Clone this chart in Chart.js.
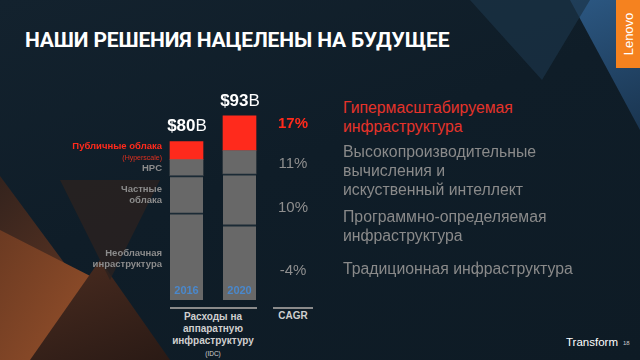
<!DOCTYPE html>
<html>
<head>
<meta charset="utf-8">
<script src="https://cdn.jsdelivr.net/npm/chart.js@4.4.0/dist/chart.umd.min.js"></script>
<style>
  html, body { margin: 0; padding: 0; }
  body { width: 640px; height: 360px; overflow: hidden; font-family: "Liberation Sans", Arial, sans-serif; }
  #slide {
    position: relative; width: 640px; height: 360px; overflow: hidden;
    background: linear-gradient(160deg, #13222e 0%, #0f1d28 45%, #0e1b25 100%);
  }
  .tri { position: absolute; }
  .t { position: absolute; white-space: nowrap; }
  #title { left: 25px; top: 28px; color: #fff; font: bold 21px "Roboto", "Liberation Sans", sans-serif; letter-spacing: -0.15px; }
  #lenovo { left: 616px; top: 0; width: 24px; height: 68px; background: #f5821f; position: absolute; }
  #lenovo span { position: absolute; left: 50%; top: 50%; transform: translate(-50%, -50%) rotate(-90deg); color: #fff; font: 13px "Liberation Sans", sans-serif; }
  .lbl { text-align: right; right: 478px; color: #8c8c8c; font: bold 9.5px "Liberation Sans", sans-serif; line-height: 11px; }
  .cagr { width: 60px; left: 263px; text-align: center; color: #8e8e8e; font: 15px "Liberation Sans", sans-serif; }
  .rt { left: 343px; color: #8a8a8a; font: 15.8px "Liberation Sans", sans-serif; line-height: 19px; }
  .hr { position: absolute; height: 2px; background: #8a8a8a; }
  #chartBox { position: absolute; left: 160px; top: 102px; width: 106px; height: 198px; }
</style>
</head>
<body>
<div id="slide">
  <!-- background triangles -->
  <div class="tri" style="left:0;top:130px;width:170px;height:230px;background:linear-gradient(135deg,#2a1f1c,#5a3322 60%,#3a2118);clip-path:polygon(0 20%,40% 60%,0 100%)"></div>
  <div class="tri" style="left:0;top:230px;width:170px;height:130px;background:linear-gradient(120deg,#6b3a22,#8a4a28 50%,#3e2519);clip-path:polygon(0 0,60% 40%,20% 100%,0 100%)"></div>
  <div class="tri" style="left:30px;top:260px;width:140px;height:100px;background:linear-gradient(160deg,#4a2c20,#2a1a15);clip-path:polygon(50% 0,100% 100%,0 100%)"></div>
  <div class="tri" style="left:60px;top:180px;width:100px;height:100px;background:#2b221f;opacity:0.8;clip-path:polygon(0 0,100% 0,50% 100%)"></div>
  <div class="tri" style="left:540px;top:0;width:100px;height:130px;background:linear-gradient(160deg,#2d5a86,#1a3550);clip-path:polygon(30% 0,100% 0,100% 100%)"></div>
  <div class="tri" style="left:470px;top:0;width:120px;height:80px;background:#1b3347;opacity:0.7;clip-path:polygon(0 0,100% 0,60% 100%)"></div>

  <div id="title" class="t">НАШИ РЕШЕНИЯ НАЦЕЛЕНЫ НА БУДУЩЕЕ</div>
  <div id="lenovo"><span>Lenovo</span></div>

  <div id="chartBox"><canvas id="chart"></canvas></div>

  <!-- segment labels -->
  <div class="t lbl" style="top:140px;color:#ff2a1c;">Публичные облака</div>
  <div class="t lbl" style="top:152px;color:#e0301f;font-size:7px;font-weight:normal;">(Hyperscale)</div>
  <div class="t lbl" style="top:162px;">HPC</div>
  <div class="t lbl" style="top:183px;">Частные<br>облака</div>
  <div class="t lbl" style="top:247px;">Необлачная<br>инраструктура</div>

  <!-- CAGR column -->
  <div class="t cagr" style="top:114px;color:#ff2a1c;font-weight:bold;">17%</div>
  <div class="t cagr" style="top:154px;">11%</div>
  <div class="t cagr" style="top:198px;">10%</div>
  <div class="t cagr" style="top:261px;">-4%</div>

  <div class="hr" style="left:170px;top:307px;width:87px;"></div>
  <div class="hr" style="left:273px;top:307px;width:40px;"></div>
  <div class="t" style="left:163px;width:100px;top:311px;text-align:center;color:#cfcfcf;font:bold 10px 'Liberation Sans',sans-serif;line-height:12px;">Расходы на<br>аппаратную<br>инфраструктуру<br><span style="font-size:6.5px;font-weight:normal;line-height:8px;">(IDC)</span></div>
  <div class="t" style="left:263px;width:60px;top:310px;text-align:center;color:#cfcfcf;font:bold 10px 'Liberation Sans',sans-serif;">CAGR</div>

  <!-- right column -->
  <div class="t rt" style="top:98px;color:#e5332a;">Гипермасштабируемая<br>инфраструктура</div>
  <div class="t rt" style="top:142px;">Высокопроизводительные<br>вычисления и<br>искуственный интеллект</div>
  <div class="t rt" style="top:207px;">Программно-определяемая<br>инфраструктура</div>
  <div class="t rt" style="top:259px;">Традиционная инфраструктура</div>

  <div class="t" style="left:566px;top:336px;color:#fff;font:11.5px 'Liberation Sans',sans-serif;">Transform</div>
  <div class="t" style="left:623px;top:340px;color:#ccc;font:6px 'Liberation Sans',sans-serif;">18</div>
</div>

<script>
const years = ["2016", "2020"];
const nonCloud = [44, 38];
const privateCloud = [18.8, 25.7];
const hpc = [8.1, 11.8];
const publicCloud = [9.1, 17.5];

const sepColor = "#1b2a35";
const grey = "#686868";

// year labels in the bottom of each bar
const barText = {
  id: "barText",
  afterDatasetsDraw(chart) {
    const ctx = chart.ctx;
    const base = chart.getDatasetMeta(0).data;
    ctx.save();
    ctx.textAlign = "center";
    ctx.textBaseline = "middle";
    ctx.fillStyle = "#4a88cc";
    ctx.font = "bold 11px Arial";
    base.forEach((bar, i) => {
      ctx.fillText(years[i], bar.x, bar.base - 9);
    });
    ctx.restore();
  },
};

new Chart(document.getElementById("chart"), {
  type: "bar",
  data: {
    labels: years,
    datasets: [
      { label: "Необлачная", data: nonCloud, backgroundColor: grey, borderColor: sepColor, borderWidth: { top: 2 }, borderSkipped: false },
      { label: "Частные облака", data: privateCloud, backgroundColor: grey, borderColor: sepColor, borderWidth: { top: 2 }, borderSkipped: false },
      { label: "HPC", data: hpc, backgroundColor: grey, borderWidth: 0 },
      { label: "Публичные облака", data: publicCloud, backgroundColor: "#ff2a1c", borderWidth: 0 },
    ],
  },
  options: {
    responsive: true,
    maintainAspectRatio: false,
    animation: false,
    layout: { padding: 0 },
    datasets: { bar: { barThickness: 33 } },
    scales: {
      x: { stacked: true, display: false },
      y: { stacked: true, display: false, min: 0, max: 100 },
    },
    plugins: { legend: { display: false }, tooltip: { enabled: false } },
  },
  plugins: [barText],
});
</script>
<div class="t" style="position:absolute;left:160px;width:54px;top:116px;text-align:center;color:#fff;font:bold 17px 'Liberation Sans',sans-serif;">$80<span style="font-weight:normal">B</span></div>
<div class="t" style="position:absolute;left:213px;width:54px;top:91px;text-align:center;color:#fff;font:bold 17px 'Liberation Sans',sans-serif;">$93<span style="font-weight:normal">B</span></div>
</body>
</html>
